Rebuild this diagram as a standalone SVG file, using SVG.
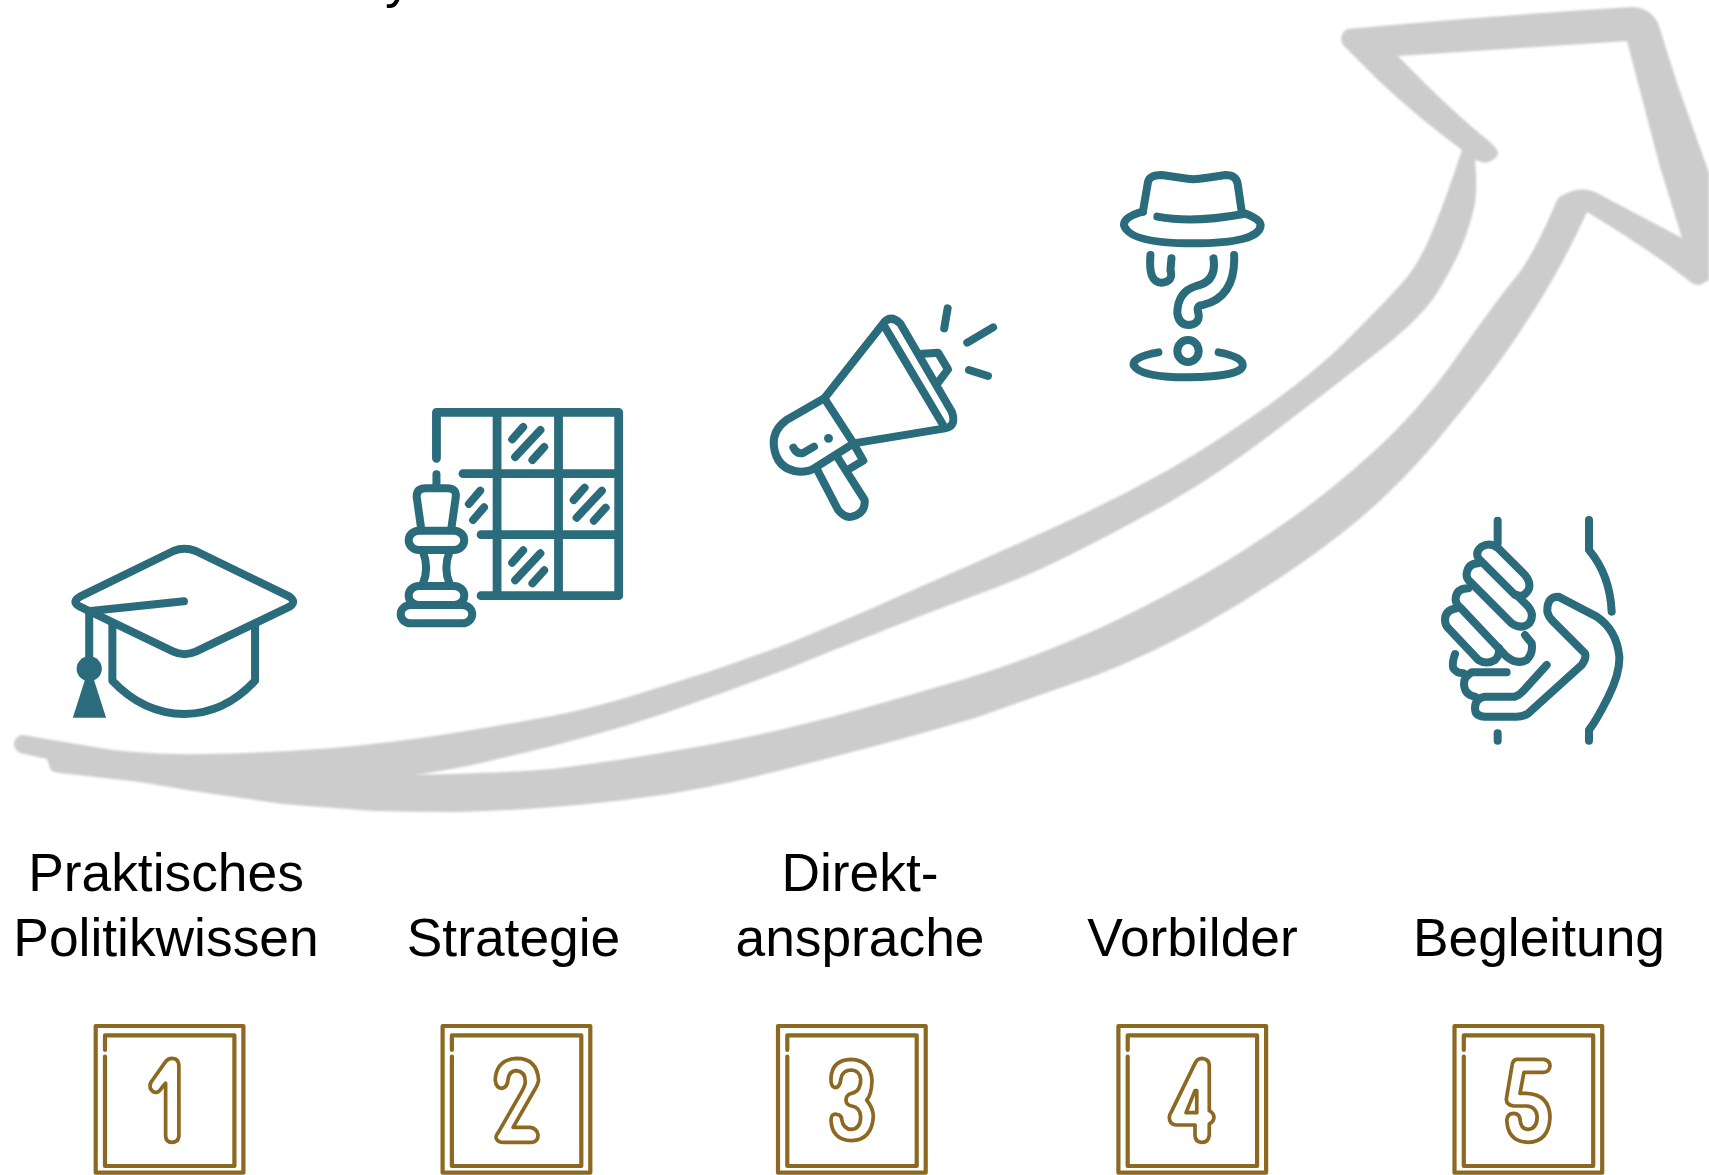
<svg xmlns="http://www.w3.org/2000/svg" width="1709" height="1175" viewBox="0 0 1709 1175">
<defs>
<style>
text{font-family:"Liberation Sans",Arial,sans-serif;font-size:53.33px;fill:#000;text-anchor:middle}
.ic,.ic *{vector-effect:non-scaling-stroke}
.ic *{fill:none;stroke:#2a6b7c;stroke-width:8;stroke-linecap:round;stroke-linejoin:round}
.ic .f{fill:#2a6b7c;stroke:none}
.ic .g{stroke-width:8.8}
.o,.d{fill:none;stroke:#8c6821;stroke-linecap:round;stroke-linejoin:round;vector-effect:non-scaling-stroke}
.o{stroke-width:4.2}
.d{stroke-width:3.7}
</style>
<filter id="soft" x="-2%" y="-2%" width="104%" height="104%"><feGaussianBlur stdDeviation="0.9"/></filter>
<g id="frame"><path class="o" d="M2,2H149.700V148.700H2Z"/><path class="o" d="M11.300,26V11.300H140.700V142H11.300V32.500"/></g>
</defs>
<rect width="1709" height="1175" fill="#fff"/>
<g id="connectors">
<path id="arrow" filter="url(#soft)" fill="#ccc" fill-rule="evenodd" d="M23,735 L100,748 Q143,755 205,754 Q267,753 333,748 Q400,742 460,732 Q520,722 552,716 Q583,710 625,698 Q667,685 708,672 Q750,658 792,642 Q833,625 875,607 Q917,588 968,566 Q1020,543 1070,520 Q1120,497 1170,469 Q1220,440 1270,404 Q1320,368 1353,334 Q1387,300 1402,283 Q1417,267 1430,237 Q1443,207 1462,150 Q1417,117 1378,80 L1343,45 Q1338,36 1347,29 Q1500,15 1633,7 Q1650,8 1658,23 L1677,83 L1709,173 V280 L1700,285 Q1692,285 1688,280 Q1650,250 1587,212 Q1567,255 1551,282 Q1535,310 1511,345 Q1487,380 1453,421 Q1420,463 1386,495 Q1353,527 1303,562 Q1253,597 1203,625 Q1153,653 1097,675 Q1040,695 978,717 Q917,735 875,746 Q833,757 790,768 Q750,778 708,787 Q667,795 625,800 Q583,805 540,808 Q500,811 458,812 Q417,812 375,811 Q333,808 283,804 Q233,797 187,790 L140,782 L60,773 Q50,772 50,768 Q48,762 47,759 L20,753 Q12,748 15,740 Q18,735 23,735 Z M415,775 Q467,767 493,760 Q520,754 552,746 Q583,738 625,726 Q667,713 708,698 Q750,683 792,667 Q833,650 875,634 Q917,617 968,598 Q1020,580 1070,555 Q1120,530 1170,502 Q1220,473 1270,435 Q1320,397 1370,358 Q1420,320 1437,293 Q1453,267 1462,246 Q1470,225 1474,208 Q1478,190 1475,160 L1485,163 Q1498,160 1498,152 Q1495,146 1490,142 Q1450,110 1398,56 L1627,41 L1660,167 L1682,238 L1597,193 Q1583,186 1567,193 Q1558,197 1557,200 Q1533,257 1515,278 Q1497,300 1458,355 Q1420,410 1370,455 Q1320,500 1270,533 Q1220,567 1170,593 Q1120,620 1070,641 Q1020,662 968,678 Q917,693 875,705 Q833,717 792,727 Q750,737 708,745 Q667,752 625,759 Q583,765 552,769 Q520,772 415,775 Z"/>
</g>
<text x="385" y="-3" style="text-anchor:start">y</text>
<g id="node-hut" class="ic" transform="scale(0.42088 0.33333) translate(0 1140)">
<path d="M190,650 L412,513 Q438,500 465,513 L688,650 Q705,665 688,680 L465,815 Q438,830 412,815 L190,680 Q168,665 190,650Z"/>
<path d="M215,693 L437,664"/>
<path d="M212,695 V840"/>
<ellipse class="f" cx="212" cy="866" rx="30" ry="37"/>
<path class="f" d="M203,895 H222 L252,1013 H173Z"/>
<path d="M267,735 V902 Q340,1000 438,1002 Q535,1000 606,902 V735"/>
</g>
<g id="node-schach" class="ic" transform="scale(0.42088 0.33333) translate(0 1140)">
<path class="g" d="M1037,235 V97 H1470 V647 H1143"/>
<path class="g" d="M1181,97 V647 M1327,97 V647 M1100,281 H1470 M1143,464 H1470"/>
<path d="M1217,178 L1243,141 M1224,231 L1284,150 M1265,240 L1293,201 M1363,360 L1389,323 M1370,413 L1430,332 M1411,422 L1439,383 M1217,548 L1243,511 M1224,601 L1284,520 M1265,610 L1293,571 M1114,372 L1141,332 M1124,420 L1150,382"/>
<path d="M1037,283 V320 M1000,440 L990,350 Q990,325 1012,325 H1062 Q1085,325 1083,350 L1073,440 M1005,515 Q1020,565 1005,610 M1068,515 Q1053,565 1068,610"/>
<rect x="971" y="452" width="132" height="58" rx="24" ry="29"/>
<rect x="971" y="618" width="132" height="57" rx="24" ry="28"/>
<rect x="952" y="675" width="170" height="55" rx="24" ry="27"/>
</g>
<g id="node-megafon" class="ic" transform="translate(740 150) scale(0.34435 0.33333)">
<path d="M245,745 L420,515 Q440,495 465,520 L615,785 Q630,830 595,835 L330,880"/>
<path d="M420,530 L590,825"/>
<path d="M245,745 L135,810 Q95,840 98,885 Q105,960 175,965 Q200,965 215,955 L330,880Z"/>
<path d="M222,955 L285,1080 Q305,1105 325,1100 Q365,1090 362,1050 L285,925"/>
<path d="M335,890 L358,932 L320,955"/>
<path d="M520,612 L575,608 L604,658 L572,702"/>
<path d="M155,893 Q165,915 185,908 L215,890"/>
<ellipse class="f" cx="257" cy="865" rx="13" ry="13"/>
<path d="M603,475 L593,535 M735,532 L660,578 M665,660 L720,678"/>
</g>
<g id="node-vorbild" class="ic" transform="translate(740 150) scale(0.34435 0.33333)">
<path d="M1170,185 L1185,95 Q1190,75 1225,75 Q1290,85 1315,88 Q1350,85 1410,75 Q1440,75 1445,100 L1457,185"/>
<path d="M1170,185 Q1115,200 1115,225 Q1130,280 1315,280 Q1510,280 1512,225 Q1510,205 1457,187"/>
<path d="M1212,200 Q1315,220 1462,192"/>
<path d="M1192,315 Q1185,400 1225,398 Q1260,395 1250,360 L1253,325"/>
<path d="M1375,325 Q1385,395 1325,408 Q1270,425 1270,490 Q1275,525 1305,525 Q1340,520 1330,485 Q1325,465 1345,465 Q1440,440 1435,315"/>
<ellipse cx="1301" cy="603" rx="31" ry="33"/>
<path d="M1215,607 Q1140,620 1143,645 Q1160,682 1300,682 Q1460,680 1460,645 Q1460,620 1390,607"/>
</g>
<g id="node-hand" class="ic" transform="translate(1400 500) scale(0.33333)">
<path d="M293,62 V130 M293,700 V722"/>
<path d="M567,60 V150 Q630,225 635,335"/>
<path d="M567,722 V690 Q590,660 625,590 Q660,520 658,470 Q650,390 590,350 L475,290 Q440,290 442,335 Q445,350 460,365 L555,460 Q560,475 545,495 L385,640 Q370,650 350,650 H255 Q225,650 225,625 Q225,595 255,590 H345 Q360,585 372,570 L440,495"/>
<path d="M320,517 H215 Q190,530 192,555 Q195,585 225,590"/>
<path d="M165,462 Q155,490 160,505 Q170,520 190,520"/>
<path d="M235,175 L345,285 Q370,295 385,270 Q395,250 375,225 L295,145 Q270,125 245,140 Q225,155 235,175Z"/>
<path d="M235,190 Q205,190 200,220 Q198,235 210,245 L335,370 Q365,390 388,370 Q405,345 385,320 L350,285"/>
<path d="M205,265 Q170,265 167,295 Q165,310 180,322 L320,470 Q350,495 380,480 Q400,460 395,430 L375,405"/>
<path d="M170,325 Q135,330 135,360 Q135,375 145,385 L235,480 Q260,495 285,480 Q300,465 297,445"/>
</g>
<g id="labels">
<text x="166" y="891">Praktisches</text>
<text x="166" y="956">Politikwissen</text>
<text x="513.500" y="956">Strategie</text>
<text x="860" y="891">Direkt-</text>
<text x="860" y="956">ansprache</text>
<text x="1192.500" y="956">Vorbilder</text>
<text x="1539" y="956">Begleitung</text>
</g>
<g id="num-1">
<use href="#frame" x="93.700" y="1024"/>
<g transform="translate(60 1000) scale(0.5102 0.33333)"><path class="d" d="M207,250 V408 Q208,427 219,427 Q232,427 233,408 V195 Q232,175 219,175 Q212,175 207,185 L180,243 Q175,252 177,265 Q182,279 190,277 Q195,275 200,262Z"/></g>
</g>
<g id="num-2">
<use href="#frame" x="440.600" y="1024"/>
<g transform="translate(60 1000) scale(0.5102 0.33333)"><path class="d" d="M878,240 Q880,212 895,212 Q912,215 912,245 Q912,255 905,275 L860,395 Q853,410 855,415 Q858,427 868,427 H925 Q937,425 937,405 Q935,385 922,382 H888 L930,270 Q938,250 938,240 Q935,175 895,175 Q855,178 853,240 Q855,265 866,265 Q877,262 878,240Z"/></g>
</g>
<g id="num-3">
<use href="#frame" x="776" y="1024"/>
<g transform="translate(770 1020) scale(0.33333)"><path class="d" d="M210,190 Q205,203 195,203 Q182,200 183,175 Q185,120 243,118 Q302,120 306,180 Q305,225 290,240 Q310,265 310,290 Q305,360 245,362 Q185,360 183,300 Q183,280 200,283 Q215,285 215,298 Q220,328 245,328 Q272,325 272,290 Q270,262 245,258 Q228,255 228,240 Q228,225 245,220 Q272,215 272,178 Q270,152 245,150 Q218,150 213,175Z"/></g>
</g>
<g id="num-4">
<use href="#frame" x="1116.400" y="1024"/>
<g transform="translate(1080 1000) scale(0.35714 0.33333)"><path class="d" d="M322,190 Q328,175 342,175 Q362,177 362,197 V332 Q375,340 375,352 Q375,365 362,372 V405 Q360,427 342,427 Q322,427 322,405 V375 H268 Q250,373 250,352 Q250,345 255,337Z M322,272 H327 V338 H297Z"/></g>
</g>
<g id="num-5">
<use href="#frame" x="1452.500" y="1024"/>
<g transform="translate(1080 1000) scale(0.35714 0.33333)"><path class="d" d="M1222,178 H1300 Q1316,182 1316,198 Q1315,215 1298,217 H1243 L1232,280 H1250 Q1315,283 1316,352 Q1313,425 1255,427 Q1197,425 1195,360 Q1197,340 1215,340 Q1232,342 1232,360 Q1235,388 1255,388 Q1280,385 1280,350 Q1278,320 1250,318 H1215 Q1192,315 1194,295 L1210,195 Q1212,180 1222,178Z"/></g>
</g>
</svg>
